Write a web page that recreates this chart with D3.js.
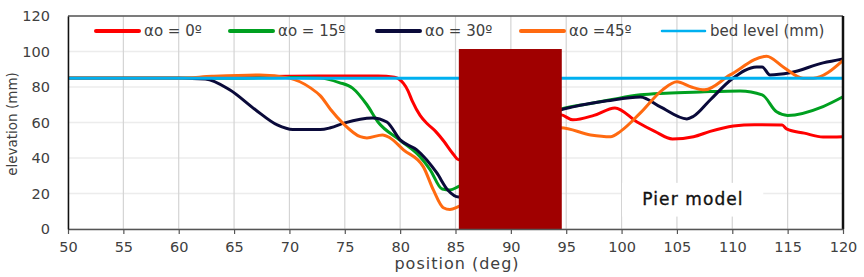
<!DOCTYPE html>
<html>
<head>
<meta charset="utf-8">
<script src="https://cdn.jsdelivr.net/npm/d3@7"></script>
<style>
  body { margin: 0; background: #fff; }
  text { font-family: "DejaVu Sans", sans-serif; }
</style>
</head>
<body>
<div id="chart"></div>
<script>
// x ticks (deg) and y ticks (mm)
const xTicks = [50, 55, 60, 65, 70, 75, 80, 85, 90, 95, 100, 105, 110, 115, 120];
const yTicks = [0, 20, 40, 60, 80, 100, 120];

// scour profiles: [position (deg), elevation (mm)]
const alpha0 = [[50,85],[55,85],[60,85],[62,85],[65,85.8],[70,86],[75,86.2],[78,86.2],[79.5,85.5],[80.3,82],[80.7,78],
  [81.1,72],[81.8,64],[82.5,59],[83.2,55],[84,49],[84.7,43],[85.3,39],[94.5,64.3],[95.6,61.5],[97.5,64],
  [99.4,68.2],[101.4,60.3],[103,55],[104.6,50.7],[106.5,52],[108,55],[110.1,58],[112,58.8],[114.5,58.6],
  [114.9,56.4],[116.5,54],[118.2,51.8],[120,52]];
const alpha15 = [[50,85],[60,85],[65,85],[70,85.3],[72.8,85],[74.5,82.5],[75.7,79.4],[77,70],[78,60.3],[80,50],
  [81.8,40.7],[82.7,33.5],[83.8,22.5],[84.5,22],[85.3,24],[94.5,67.5],[97,70.5],[99,72.8],[101.7,75.6],[104,76.5],
  [107.1,77.2],[110.7,77.8],[112.7,75.6],[114,66],[115,64],[118.2,69],[120,74.5]];
const alpha30 = [[50,85],[60,85],[62.4,84.5],[64.6,78.4],[66.9,67.3],[68.9,58.6],[70.3,56],[72.8,56],[73.7,57],
  [75,59.8],[77.5,62.6],[78.8,60.3],[80,50.2],[81.5,44.6],[83.3,31.7],[84.3,22],[85.3,18],[94.5,67.2],[95.6,68.8],
  [98.7,72.2],[101.7,74.4],[103.5,68.8],[105.9,62],[106.5,63.5],[108,72.7],[110,84.6],[112.2,91.3],[112.7,91.3],
  [113.4,86.8],[115.2,88],[118.2,93.6],[120,95.8]];
const alpha45 = [[50,85],[60,85],[63,86],[67.3,86.8],[70,85],[71.9,79.5],[72.8,75],[73.7,67.5],[74.8,59.8],[76.4,52],
  [77,51.3],[78.4,53],[79.1,51.3],[80.3,44.6],[82.1,35],[83,22],[83.9,12],[84.5,11],[85.3,12.7],[94.5,57],
  [97.2,53],[99,52],[99.9,55],[101.7,65.4],[103.7,78.4],[105,83],[106.3,80],[107.5,78.4],[109.8,86.8],
  [113.1,97.3],[114.6,91.3],[116.4,85],[117.3,85],[120,95]];
const bedLevel = [[50,85],[120,85]];

// pier: from/to position (deg) and height (mm)
const pier = { x0: 85.3, x1: 94.6, h: 101.4 };

const seriesNames = ["αo = 0º", "αo = 15º", "αo = 30º", "αo =45º", "bed level (mm)"];
const seriesColors = ["#ff0000", "#00a020", "#0a0a3a", "#ff6a10", "#00b0f0"];
const seriesData = [alpha0, alpha15, alpha30, alpha45, bedLevel];

const W = 864, H = 277;
const margin = { top: 16, right: 21, bottom: 48, left: 68 };
const width = W - margin.left - margin.right;
const height = H - margin.top - margin.bottom;

const svg = d3.select("#chart").append("svg")
  .attr("width", W).attr("height", H);
const g = svg.append("g")
  .attr("transform", `translate(${margin.left},${margin.top})`);

const x = d3.scaleLinear().domain([50, 120]).range([0, width]);
const y = d3.scaleLinear().domain([0, 120]).range([height, 0]);

// grid
g.append("g").selectAll("line").data(yTicks).enter().append("line")
  .attr("x1", 0).attr("x2", width)
  .attr("y1", d => y(d)).attr("y2", d => y(d))
  .attr("stroke", "#ececec").attr("stroke-width", 1.5);
g.append("g").selectAll("line").data(xTicks).enter().append("line")
  .attr("x1", d => x(d)).attr("x2", d => x(d))
  .attr("y1", 0).attr("y2", height)
  .attr("stroke", "#d4d4d4").attr("stroke-width", 1.2);

// "Pier model" label box
g.append("rect")
  .attr("x", x(100.05)).attr("y", y(26))
  .attr("width", x(112.8) - x(100.05)).attr("height", y(7) - y(26))
  .attr("fill", "#fff");
g.append("text")
  .attr("x", x(106.45)).attr("y", 205 - margin.top)
  .attr("text-anchor", "middle")
  .attr("font-size", 17).attr("letter-spacing", 1.1)
  .attr("fill", "#111").attr("stroke", "#111").attr("stroke-width", 0.35)
  .text("Pier model");

// profiles
const line = d3.line()
  .x(d => x(d[0])).y(d => y(d[1]))
  .curve(d3.curveMonotoneX);
seriesData.forEach((s, i) => {
  g.append("path").datum(s)
    .attr("fill", "none")
    .attr("stroke", seriesColors[i])
    .attr("stroke-width", 3)
    .attr("stroke-linejoin", "round")
    .attr("d", line);
});

// pier block
g.append("rect")
  .attr("x", x(pier.x0)).attr("y", y(pier.h))
  .attr("width", x(pier.x1) - x(pier.x0)).attr("height", y(0) - y(pier.h))
  .attr("fill", "#a00000");

// frame
g.append("line").attr("x1", 0).attr("x2", width).attr("y1", 0).attr("y2", 0)
  .attr("stroke", "#555").attr("stroke-width", 1.5);
g.append("line").attr("x1", width).attr("x2", width).attr("y1", 0).attr("y2", height)
  .attr("stroke", "#111").attr("stroke-width", 2.5);

// axes
const xAxis = g.append("g")
  .attr("transform", `translate(0,${height})`)
  .call(d3.axisBottom(x).tickValues(xTicks).tickSize(5).tickSizeOuter(0).tickPadding(8));
xAxis.select(".domain").attr("stroke", "#555").attr("stroke-width", 1.5);
xAxis.selectAll(".tick line").attr("stroke", "#555").attr("stroke-width", 1.2);
xAxis.selectAll(".tick text").attr("font-size", 14.5).attr("fill", "#404040")
  .attr("font-family", "DejaVu Sans, sans-serif");

const yAxis = g.append("g")
  .call(d3.axisLeft(y).tickValues(yTicks).tickSize(0).tickPadding(18));
yAxis.select(".domain").attr("stroke", "#111").attr("stroke-width", 1.5);
yAxis.selectAll(".tick text").attr("font-size", 14.5).attr("fill", "#404040")
  .attr("font-family", "DejaVu Sans, sans-serif");

// axis titles
svg.append("text")
  .attr("x", 457).attr("y", 269)
  .attr("text-anchor", "middle").attr("font-size", 16).attr("letter-spacing", 1)
  .attr("fill", "#404040")
  .text("position (deg)");
svg.append("text")
  .attr("transform", `translate(17,124) rotate(-90)`)
  .attr("text-anchor", "middle").attr("font-size", 13.5).attr("fill", "#404040")
  .text("elevation (mm)");

// legend
const legendX = [96, 230, 377, 521, 662];
const legend = svg.append("g").attr("transform", "translate(0,31)");
seriesNames.forEach((name, i) => {
  const lg = legend.append("g").attr("transform", `translate(${legendX[i]},0)`);
  lg.append("line").attr("x1", 0).attr("x2", 43).attr("y1", 0).attr("y2", 0)
    .attr("stroke", seriesColors[i]).attr("stroke-width", i === 4 ? 2.5 : 4)
    .attr("stroke-linecap", "round");
  lg.append("text").attr("x", 48).attr("y", 5)
    .attr("font-size", 15).attr("fill", "#404040")
    .text(name);
});
</script>
</body>
</html>
